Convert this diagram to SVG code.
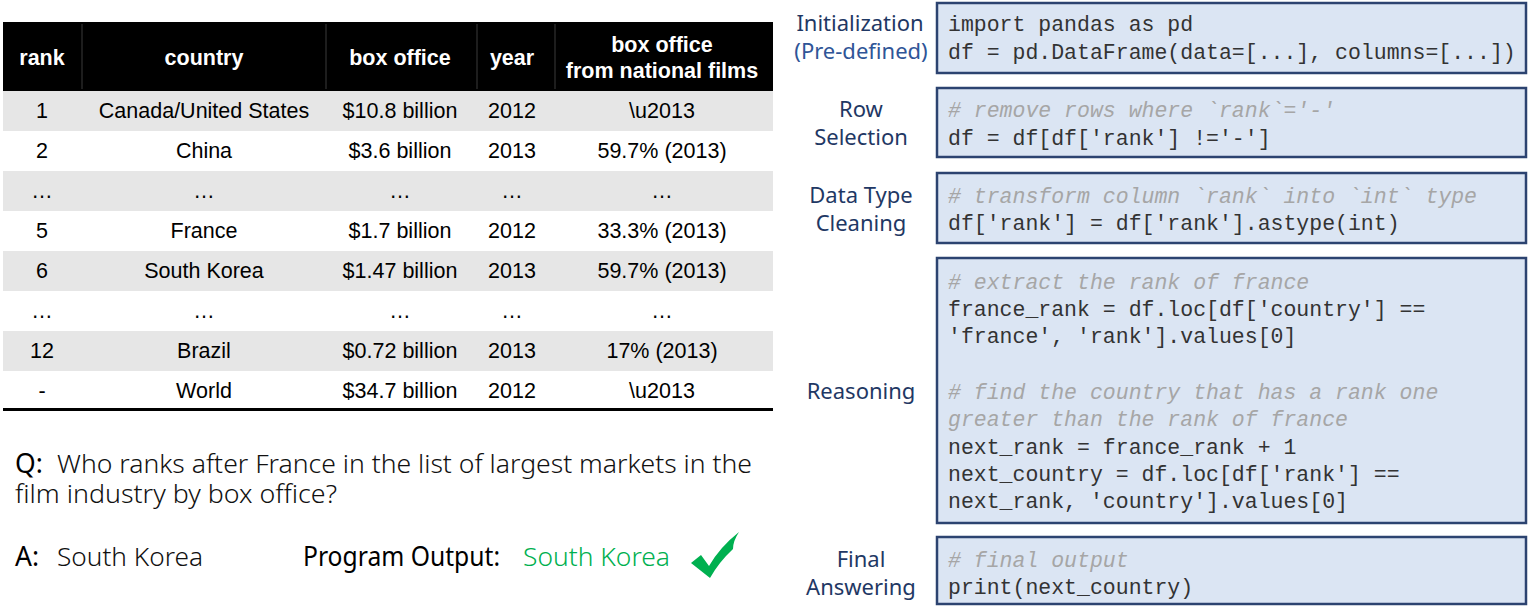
<svg xmlns="http://www.w3.org/2000/svg" width="1533" height="611" viewBox="0 0 1533 611">
<style>
.th{font-family:"Liberation Sans",Arial,sans-serif;font-size:21.5px;font-weight:bold;fill:#fff;text-anchor:middle}
.td{font-family:"Liberation Sans",Arial,sans-serif;font-size:21.5px;fill:#000;text-anchor:middle}
.q{font-family:"Noto Sans","Open Sans",sans-serif;font-size:26.5px;font-weight:300;fill:#111}
.qb{font-family:"Noto Sans","Open Sans",sans-serif;font-size:26.5px;font-weight:400;fill:#000}
.lab{font-family:"Noto Sans","Open Sans",sans-serif;font-size:22px;fill:#1f3864;text-anchor:middle}
.box{fill:#dbe5f3;stroke:#2c4370;stroke-width:2.5}
.code{font-family:"Liberation Mono","Courier New",monospace;font-size:21.5px;fill:#333;white-space:pre}
.cm{fill:#a6a6a6;font-style:italic}
.gray{fill:#e6e6e6}
</style>
<g id="table">
<rect x="3" y="22" width="770" height="69" fill="#000"/>
<g stroke="#3a3a3a" stroke-width="1">
<line x1="82" y1="24" x2="82" y2="89"/><line x1="326" y1="24" x2="326" y2="89"/><line x1="477" y1="24" x2="477" y2="89"/><line x1="555" y1="24" x2="555" y2="89"/>
</g>
<text class="th" x="42" y="65">rank</text>
<text class="th" x="204" y="65">country</text>
<text class="th" x="400" y="65">box office</text>
<text class="th" x="512" y="65">year</text>
<text class="th" x="662" y="52">box office</text>
<text class="th" x="662" y="78">from national films</text>
<rect class="gray" x="3" y="91" width="770" height="40"/>
<rect class="gray" x="3" y="171" width="770" height="40"/>
<rect class="gray" x="3" y="251" width="770" height="40"/>
<rect class="gray" x="3" y="331" width="770" height="40"/>
<g class="td">
<text x="42" y="118">1</text><text x="204" y="118">Canada/United States</text><text x="400" y="118">$10.8 billion</text><text x="512" y="118">2012</text><text x="662" y="118">\u2013</text>
<text x="42" y="158">2</text><text x="204" y="158">China</text><text x="400" y="158">$3.6 billion</text><text x="512" y="158">2013</text><text x="662" y="158">59.7% (2013)</text>
<text x="42" y="198">…</text><text x="204" y="198">…</text><text x="400" y="198">…</text><text x="512" y="198">…</text><text x="662" y="198">…</text>
<text x="42" y="238">5</text><text x="204" y="238">France</text><text x="400" y="238">$1.7 billion</text><text x="512" y="238">2012</text><text x="662" y="238">33.3% (2013)</text>
<text x="42" y="278">6</text><text x="204" y="278">South Korea</text><text x="400" y="278">$1.47 billion</text><text x="512" y="278">2013</text><text x="662" y="278">59.7% (2013)</text>
<text x="42" y="318">…</text><text x="204" y="318">…</text><text x="400" y="318">…</text><text x="512" y="318">…</text><text x="662" y="318">…</text>
<text x="42" y="358">12</text><text x="204" y="358">Brazil</text><text x="400" y="358">$0.72 billion</text><text x="512" y="358">2013</text><text x="662" y="358">17% (2013)</text>
<text x="42" y="398">-</text><text x="204" y="398">World</text><text x="400" y="398">$34.7 billion</text><text x="512" y="398">2012</text><text x="662" y="398">\u2013</text>
</g>
<rect x="3" y="408" width="770" height="3" fill="#000"/>
</g>
<g id="qa">
<text class="qb" x="15" y="473">Q:</text>
<text class="q" x="57" y="473" textLength="695" lengthAdjust="spacingAndGlyphs">Who ranks after France in the list of largest markets in the</text>
<text class="q" x="15" y="503" textLength="322" lengthAdjust="spacingAndGlyphs">film industry by box office?</text>
<text class="qb" x="15" y="566">A:</text>
<text class="q" x="57" y="566" textLength="146" lengthAdjust="spacingAndGlyphs">South Korea</text>
<text class="qb" x="303" y="566" textLength="197" lengthAdjust="spacingAndGlyphs">Program Output:</text>
<text class="q" x="523" y="566" style="fill:#00b050" textLength="147" lengthAdjust="spacingAndGlyphs">South Korea</text>
<path d="M691,563 L701,555 L709,566 Q720,547 739,532 Q733,541 733,549 Q719,562 710,578 Z" fill="#00b050"/>
</g>
<g id="init">
<text class="lab" x="860" y="31">Initialization</text>
<text class="lab" x="861" y="59" style="fill:#2f5597">(Pre-defined)</text>
<rect class="box" x="937" y="3" width="589" height="70"/>
<text class="code" x="948" y="31">import pandas as pd</text>
<text class="code" x="948" y="59">df = pd.DataFrame(data=[...], columns=[...])</text>
</g>
<g id="rowsel">
<text class="lab" x="861" y="117">Row</text>
<text class="lab" x="861" y="145">Selection</text>
<rect class="box" x="937" y="88" width="589" height="69"/>
<text class="code cm" x="948" y="117"># remove rows where `rank`='-'</text>
<text class="code" x="948" y="145">df = df[df['rank'] !='-']</text>
</g>
<g id="dtype">
<text class="lab" x="861" y="203">Data Type</text>
<text class="lab" x="861" y="231">Cleaning</text>
<rect class="box" x="937" y="173" width="589" height="70"/>
<text class="code cm" x="948" y="203"># transform column `rank` into `int` type</text>
<text class="code" x="948" y="230">df['rank'] = df['rank'].astype(int)</text>
</g>
<g id="reason">
<text class="lab" x="861" y="399">Reasoning</text>
<rect class="box" x="937" y="258" width="589" height="265"/>
<text class="code cm" x="948" y="289"># extract the rank of france</text>
<text class="code" x="948" y="316">france_rank = df.loc[df['country'] ==</text>
<text class="code" x="948" y="343">'france', 'rank'].values[0]</text>
<text class="code cm" x="948" y="399"># find the country that has a rank one</text>
<text class="code cm" x="948" y="426">greater than the rank of france</text>
<text class="code" x="948" y="454">next_rank = france_rank + 1</text>
<text class="code" x="948" y="481">next_country = df.loc[df['rank'] ==</text>
<text class="code" x="948" y="508">next_rank, 'country'].values[0]</text>
</g>
<g id="final">
<text class="lab" x="861" y="567">Final</text>
<text class="lab" x="861" y="595">Answering</text>
<rect class="box" x="937" y="537" width="589" height="67"/>
<text class="code cm" x="948" y="567"># final output</text>
<text class="code" x="948" y="594">print(next_country)</text>
</g>
<g id="connectors"/>
</svg>
